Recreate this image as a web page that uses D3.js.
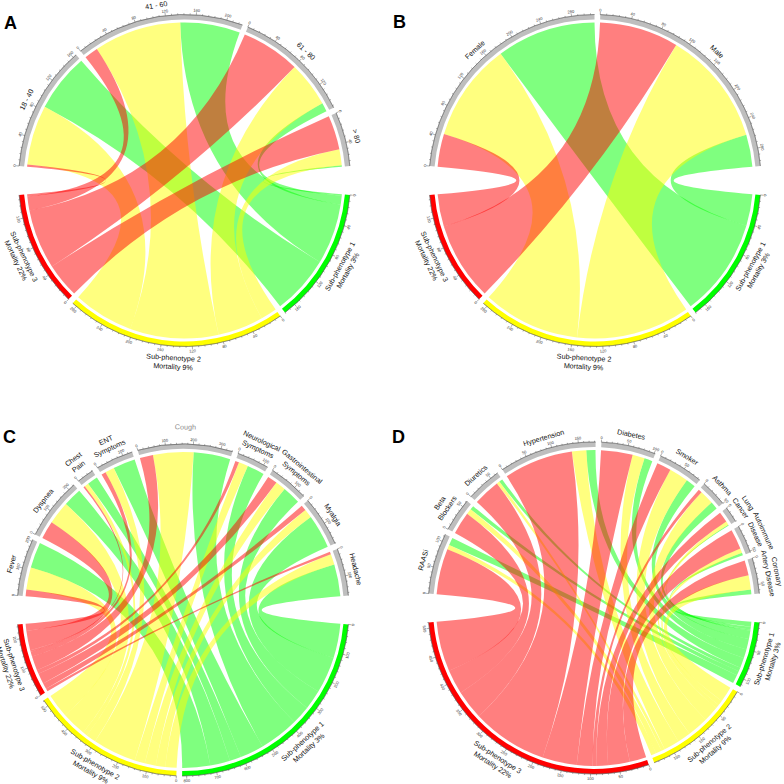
<!DOCTYPE html>
<html>
<head>
<meta charset="utf-8">
<script src="https://cdn.jsdelivr.net/npm/d3@7"></script>
<style>
  body { margin: 0; background: #fff; }
  svg { display: block; font-family: "Liberation Sans", Arial, Helvetica, sans-serif; }
</style>
</head>
<body>
<svg width="784" height="784"></svg>
<script>
// sub-phenotypes (bottom half of every panel)
const subLabels = ["Sub-phenotype 1\nMortality 3%", "Sub-phenotype 2\nMortality 9%", "Sub-phenotype 3\nMortality 22%"];
const subColors = ["#00ff00", "#ffff00", "#ff0000"];

// A: age groups
const ageGroups = ["18 - 40", "41 - 60", "61 - 80", "> 80"];
const ageSub1 = [80, 82, 12, 2];
const ageSub2 = [82, 120, 62, 22];
const ageSub3 = [3, 19, 81, 47];

// B: sex
const sexGroups = ["Female", "Male"];
const sexSub1 = [133, 43];
const sexSub2 = [132, 154];
const sexSub3 = [44, 106];

// C: symptoms
const symptoms = ["Fever", "Dyspnea", "Chest\nPain", "ENT\nSymptoms", "Cough", "Neurological\nSymptoms",
                  "Gastrointestinal\nSymptoms", "Myalgia", "Headache"];
const symSub1 = [98, 70, 40, 84, 139, 66, 69, 128, 121];
const symSub2 = [84, 87, 16, 35, 153, 36, 39, 33, 40];
const symSub3 = [25, 68, 6, 17, 50, 14, 37, 21, 10];

// D: comorbidities / medication
const comorbid = ["RAASi", "Beta\nBlockers", "Diuretics", "Hypertension", "Diabetes", "Smoker", "Asthma",
                  "Lung\nCancer", "Autoimmune\nDisease", "Coronary\nArtery Disease"];
const comSub1 = [15, 8, 7, 18, 16, 19, 15, 2, 5, 9];
const comSub2 = [9, 11, 6, 28, 24, 38, 28, 7, 9, 28];
const comSub3 = [90, 44, 53, 136, 62, 28, 7, 21, 39, 30];

const svg = d3.select("svg");
const rad = d => d * Math.PI / 180;

const ribbonR = 158, ringIn = 161, ringOut = 166;
const bigGap = 10, smallGap = 2;

//put one or more lines of text along the circle, readable side up
function placeText(g, deg, rc, lines, size, lh, fill, weight) {
    const top = deg > -90 && deg < 90;
    lines.forEach((line, k) => {
        const r = top ? rc + (lines.length - 1 - k) * lh : rc + k * lh;
        const x = r * Math.sin(rad(deg)), y = -r * Math.cos(rad(deg));
        const rot = top ? deg : deg - 180;
        g.append("text")
            .attr("transform", `translate(${x},${y}) rotate(${rot})`)
            .attr("text-anchor", "middle")
            .attr("dominant-baseline", "central")
            .style("font-size", size + "px")
            .style("font-weight", weight || "normal")
            .attr("fill", fill)
            .text(line);
    });
}

function drawChord(cx, cy, letter, lx, ly, groups, sub1, sub2, sub3) {
    svg.append("text")
        .attr("x", lx).attr("y", ly)
        .style("font-size", "18px").style("font-weight", "bold")
        .text(letter);

    const g = svg.append("g").attr("transform", `translate(${cx},${cy})`);
    const subs = [sub1, sub2, sub3];
    const nTop = groups.length;
    const topTotals = groups.map((d, i) => sub1[i] + sub2[i] + sub3[i]);
    const subTotals = subs.map(s => d3.sum(s));
    const total = d3.sum(topTotals);
    const topSpan = 180 - bigGap - (nTop - 1) * smallGap;
    const botSpan = 180 - bigGap - 2 * smallGap;

    //sectors: categories over the top, sub-phenotypes under
    const sectors = [];
    let a = -90 + bigGap / 2;
    topTotals.forEach((t, i) => {
        const span = t / total * topSpan;
        sectors.push({label: groups[i], total: t, start: a, end: a + span, color: "#bebebe"});
        a += span + smallGap;
    });
    a = 90 + bigGap / 2;
    subTotals.forEach((t, j) => {
        const span = t / total * botSpan;
        sectors.push({label: subLabels[j], total: t, start: a, end: a + span, color: subColors[j]});
        a += span + smallGap;
    });
    sectors.forEach(s => s.scale = d3.scaleLinear().domain([0, s.total]).range([s.start, s.end]));

    //where each link sits inside its two sectors
    const topPos = groups.map((d, i) => {
        let off = 0;
        const pos = {};
        [2, 1, 0].forEach(j => { pos[j] = [off, off + subs[j][i]]; off += subs[j][i]; });
        return pos;
    });
    const subPos = subs.map(s => {
        let off = 0;
        const pos = {};
        d3.range(nTop - 1, -1, -1).forEach(i => { pos[i] = [off, off + s[i]]; off += s[i]; });
        return pos;
    });

    const ribbon = d3.ribbon().radius(ribbonR);
    [0, 1, 2].forEach(j => {
        groups.forEach((d, i) => {
            if (!subs[j][i]) return;
            const sc = sectors[i].scale, tc = sectors[nTop + j].scale;
            g.append("path")
                .attr("d", ribbon({
                    source: {startAngle: rad(sc(topPos[i][j][0])), endAngle: rad(sc(topPos[i][j][1]))},
                    target: {startAngle: rad(tc(subPos[j][i][0])), endAngle: rad(tc(subPos[j][i][1]))}
                }))
                .attr("fill", subColors[j])
                .attr("fill-opacity", 0.5);
        });
    });

    //outer ring, axis ticks and labels
    const arc = d3.arc().innerRadius(ringIn).outerRadius(ringOut);
    const axisArc = d3.arc().innerRadius(ringOut).outerRadius(ringOut);
    sectors.forEach((s, k) => {
        g.append("path")
            .attr("d", arc({startAngle: rad(s.start), endAngle: rad(s.end)}))
            .attr("fill", s.color);
        g.append("path")
            .attr("d", axisArc({startAngle: rad(s.start), endAngle: rad(s.end)}))
            .attr("fill", "none").attr("stroke", "#555").attr("stroke-width", 0.4);

        const v = 10 / ((s.end - s.start) / s.total);
        const p = Math.pow(10, Math.floor(Math.log10(v)));
        const step = Math.round(v / p) * p;
        const minor = step / 5;
        for (let t = 0; t <= s.total + 1e-9; t += minor) {
            const isMajor = Math.abs(t / step - Math.round(t / step)) < 1e-6;
            const ang = rad(s.scale(t));
            const len = isMajor ? 2.6 : 1.3;
            g.append("line")
                .attr("x1", ringOut * Math.sin(ang)).attr("y1", -ringOut * Math.cos(ang))
                .attr("x2", (ringOut + len) * Math.sin(ang)).attr("y2", -(ringOut + len) * Math.cos(ang))
                .attr("stroke", "#333").attr("stroke-width", 0.4);
            if (isMajor) {
                placeText(g, s.scale(t), 170.6, [String(Math.round(t))], 4, 0, "#333");
            }
        }

        const mid = (s.start + s.end) / 2;
        const lines = s.label.split("\n");
        if (s.label === "Cough") {
            placeText(g, mid, 183, lines, 7.2, 9, "#8a8a8a");
        } else {
            placeText(g, mid, 177.5, lines, 7.2, 9, "#111");
        }
    });
}

drawChord(184.5, 180.5, "A", 4, 29, ageGroups, ageSub1, ageSub2, ageSub3);
drawChord(595, 180.5, "B", 393, 28, sexGroups, sexSub1, sexSub2, sexSub3);
drawChord(183, 610, "C", 3, 443, symptoms, symSub1, symSub2, symSub3);
drawChord(594, 608, "D", 392, 443, comorbid, comSub1, comSub2, comSub3);
</script>
</body>
</html>
